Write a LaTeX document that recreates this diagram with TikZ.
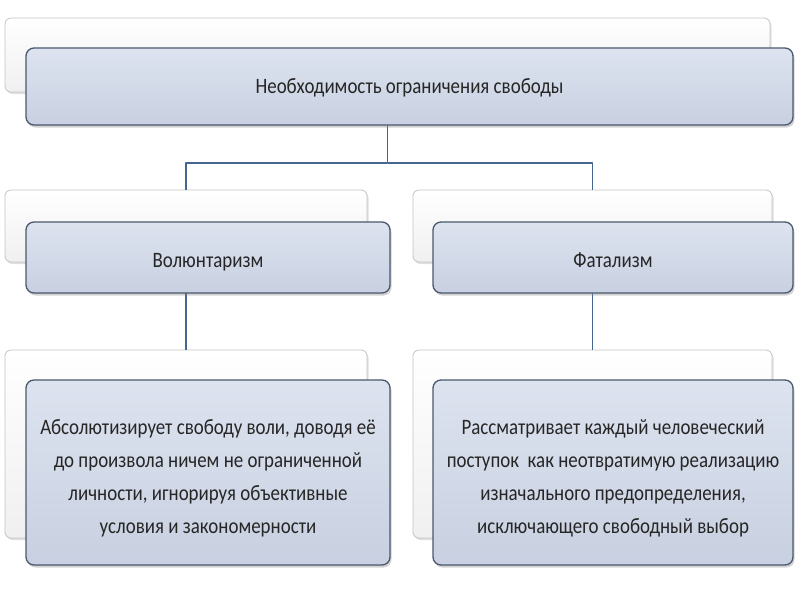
\documentclass[tikz,border=0pt]{standalone}
\usepackage{fontspec}
\setmainfont{Carlito}[FakeStretch=0.86]
\usetikzlibrary{shadows}

\definecolor{boxline}{HTML}{4A586E}
\definecolor{boxtop}{HTML}{DDE3EF}
\definecolor{boxbottom}{HTML}{C8D0E1}
\definecolor{backline}{HTML}{C4C4C4}
\definecolor{linkblue}{HTML}{46658F}
\definecolor{textgray}{HTML}{262626}

\newcommand{\topstrut}{\rule{0pt}{26pt}}

\tikzset{
  backbox/.style={draw=backline,line width=0.8pt,rounded corners=6pt,top color=white,bottom color=gray!12,
    drop shadow={shadow xshift=1.5pt,shadow yshift=-2pt,opacity=0.25},inner sep=0pt},
  frontbox/.style={draw=boxline,line width=1.3pt,rounded corners=8pt,top color=boxtop,bottom color=boxbottom,
    drop shadow={shadow xshift=1.5pt,shadow yshift=-2.5pt,opacity=0.35},inner sep=0pt,align=center,
    text=textgray,font=\fontsize{22}{33}\selectfont},
  oneline/.style={text height=22pt,text depth=3pt},
  link/.style={draw=linkblue,line width=1.6pt}
}

\begin{document}
\begin{tikzpicture}[x=1pt,y=-1pt,line join=round]
\useasboundingbox[fill=white] (0,0) rectangle (800,600);
% back layer
\node[backbox,minimum width=765pt,minimum height=74pt] (topback) at (387.5,55) {};
\node[backbox,minimum width=362pt,minimum height=72pt] (volback) at (186,226) {};
\node[backbox,minimum width=359pt,minimum height=72pt] (fatback) at (592.5,226) {};
\node[backbox,minimum width=362pt,minimum height=188pt] (volnoteback) at (186,444) {};
\node[backbox,minimum width=359pt,minimum height=188pt] (fatnoteback) at (592.5,444) {};
% connectors
\coordinate (fork) at (387.5,163);
\draw[link] (topback.south) -- (fork) -| (volback.north);
\draw[link] (fork) -| (fatback.north);
\draw[link] (volback.south) -- (volnoteback.north);
\draw[link] (fatback.south) -- (fatnoteback.north);
% front layer
\node[frontbox,text height=16pt,text depth=3pt,minimum width=767pt,minimum height=77pt] (top) at (409.5,86.5) {Необходимость ограничения свободы};
\node[frontbox,oneline,minimum width=364pt,minimum height=71pt] (vol) at (208,257.5) {Волюнтаризм};
\node[frontbox,oneline,minimum width=360pt,minimum height=71pt] (fat) at (613,257.5) {Фатализм};
\node[frontbox,minimum width=364pt,minimum height=185pt] (volnote) at (208,472.5)
  {\topstrut Абсолютизирует свободу воли, доводя её\\до произвола ничем не ограниченной\\личности, игнорируя объективные\\условия и закономерности};
\node[frontbox,minimum width=360pt,minimum height=185pt] (fatnote) at (613,472.5)
  {\topstrut Рассматривает каждый человеческий\\поступок~ как неотвратимую реализацию\\изначального предопределения,\\исключающего свободный выбор};
\end{tikzpicture}
\end{document}
